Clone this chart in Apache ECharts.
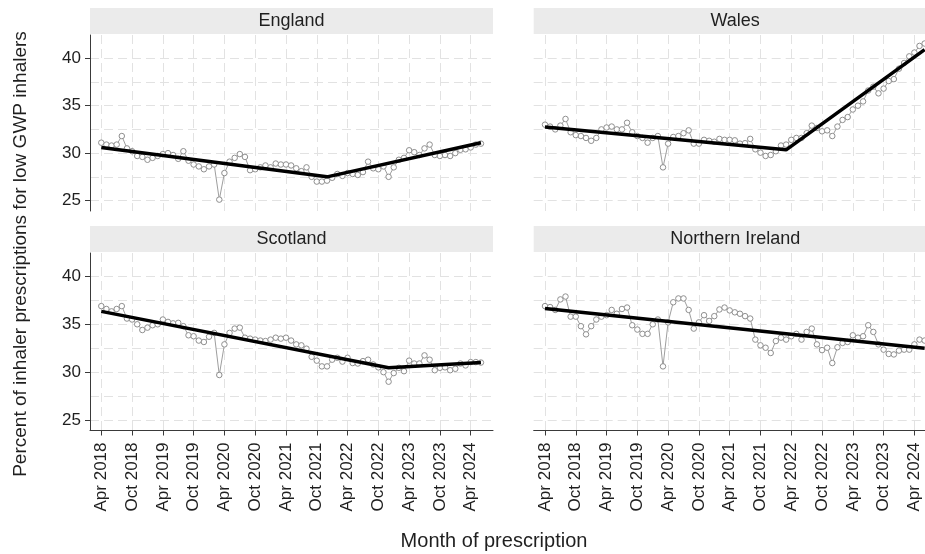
<!DOCTYPE html>
<html>
<head>
<meta charset="utf-8">
<script src="https://cdn.jsdelivr.net/npm/echarts@6/dist/echarts.min.js"></script>
<style>
html,body{margin:0;padding:0;background:#fff;}
#chart{width:925px;height:554px;}
</style>
</head>
<body>
<div id="chart"></div>
<script>
// ---- Data (month index 0 = Apr 2018 ... 74 = Jun 2024) ----
const panelNames = ["England", "Wales", "Scotland", "Northern Ireland"];
const tickMonths = [0, 6, 12, 18, 24, 30, 36, 42, 48, 54, 60, 66, 72];
const tickLabels = ["Apr 2018", "Oct 2018", "Apr 2019", "Oct 2019", "Apr 2020", "Oct 2020",
  "Apr 2021", "Oct 2021", "Apr 2022", "Oct 2022", "Apr 2023", "Oct 2023", "Apr 2024"];
const yTickValues = [25, 30, 35, 40];
const yGridValues = [25, 27.5, 30, 32.5, 35, 37.5, 40];

const england = [31.1, 30.9, 30.8, 30.9, 31.8, 30.5, 30.2, 29.7, 29.6, 29.3, 29.5, 29.7, 29.9, 30.0, 29.8,
  29.4, 30.2, 29.2, 28.8, 28.6, 28.3, 28.6, 28.8, 25.1, 27.9, 29.1, 29.5, 29.9, 29.6, 28.2,
  28.3, 28.5, 28.7, 28.5, 28.9, 28.8, 28.8, 28.7, 28.4, 28.1, 28.5, 27.5, 27.0, 27.0, 27.1,
  27.4, 27.8, 27.6, 27.9, 27.8, 27.7, 28.0, 29.1, 28.4, 28.3, 28.6, 27.5, 28.5, 29.3, 29.5,
  30.3, 30.1, 29.8, 30.5, 30.9, 29.8, 29.7, 29.8, 29.7, 30.0, 30.35, 30.4, 30.6, 30.9, 31.0];
const wales = [33.0, 32.8, 32.5, 32.9, 33.6, 32.2, 31.9, 31.8, 31.6, 31.3, 31.6, 32.5, 32.7, 32.8, 32.5,
  32.5, 33.2, 32.2, 31.8, 31.6, 31.1, 31.6, 31.8, 28.5, 31.0, 31.7, 31.8, 32.1, 32.4, 31.0,
  31.0, 31.4, 31.3, 31.2, 31.5, 31.4, 31.4, 31.35, 31.0, 31.05, 31.5, 30.4, 30.05, 29.7, 29.8,
  30.2, 30.8, 30.9, 31.4, 31.6, 31.6, 32.1, 32.9, 32.65, 32.3, 32.4, 31.8, 32.8, 33.5, 33.8,
  34.6, 35.0, 35.45, 36.6, 37.0, 36.3, 36.8, 37.6, 37.8, 38.9, 39.5, 40.2, 40.6, 41.3, 41.55];
const scotland = [36.9, 36.6, 36.35, 36.6, 36.9, 35.6, 35.5, 35.0, 34.4, 34.65, 34.9, 35.0, 35.5, 35.25, 35.1,
  35.15, 34.8, 33.85, 33.75, 33.3, 33.15, 33.7, 34.1, 29.7, 32.9, 34.1, 34.55, 34.65, 33.6, 33.5,
  33.4, 33.3, 33.25, 33.4, 33.6, 33.5, 33.6, 33.3, 32.9, 32.8, 32.45, 31.6, 31.2, 30.6, 30.6,
  31.3, 31.5, 31.1, 31.5, 30.95, 30.9, 31.15, 31.3, 30.8, 30.5, 30.0, 29.0, 29.9, 30.45, 30.1,
  31.2, 30.9, 30.9, 31.75, 31.3, 30.2, 30.45, 30.5, 30.2, 30.35, 30.9, 30.7, 31.05, 31.05, 31.0];
const northernIreland = [36.9, 36.8, 36.5, 37.6, 37.9, 35.8, 35.8, 34.8, 33.95, 34.8, 35.5, 35.8, 35.95, 36.5, 36.1,
  36.6, 36.75, 34.9, 34.45, 34.0, 34.0, 35.0, 35.5, 30.6, 35.2, 37.3, 37.7, 37.7, 36.5, 34.55,
  35.2, 35.95, 35.35, 35.85, 36.55, 36.75, 36.45, 36.25, 36.1, 35.85, 35.6, 33.4, 32.8, 32.55, 32.0,
  33.25, 33.6, 33.4, 33.75, 34.0, 33.4, 34.2, 34.55, 32.9, 32.3, 32.55, 30.95, 32.6, 33.05, 33.15,
  33.85, 33.6, 33.75, 34.9, 34.2, 32.9, 32.35, 31.9, 31.85, 32.25, 32.35, 32.35, 32.9, 33.4, 33.3];

// fitted segmented trend lines: [month index, percent]
const englandFit = [[0, 30.6], [44, 27.5], [74, 31.1]];
const walesFit = [[0, 32.75], [47, 30.35], [74, 40.9]];
const scotlandFit = [[0, 36.35], [56, 30.45], [74, 31.0]];
const northernIrelandFit = [[0, 36.65], [74, 32.5]];

// ---- Layout ----
const FONT = "'Liberation Sans', Arial, sans-serif";
const TXT = '#1f1f1f';
const AX = '#3a3a3a';
const GRIDC = '#e2e2e2';
const xMin = -2.2, xMax = 76.35, yMin = 23.9, yMax = 42.45;
const panels = [
  { values: england, fit: englandFit, left: 90, top: 35, width: 403, height: 176, hy: 8 },
  { values: wales, fit: walesFit, left: 533.7, top: 35, width: 403, height: 176, hy: 8 },
  { values: scotland, fit: scotlandFit, left: 90, top: 253, width: 403, height: 177.5, hy: 226 },
  { values: northernIreland, fit: northernIrelandFit, left: 533.7, top: 253, width: 403, height: 177.5, hy: 226 }
];

const grid = [], xAxis = [], yAxis = [], series = [], graphics = [];
const dash = { color: GRIDC, width: 1, type: [9, 5] };

panels.forEach((p, i) => {
  const bottomRow = i >= 2, leftCol = i % 2 === 0;
  grid.push({ left: p.left, top: p.top, width: p.width, height: p.height, containLabel: false, outerBoundsMode: 'none' });
  xAxis.push({
    gridIndex: i, type: 'value', min: xMin, max: xMax,
    axisLine: { show: bottomRow, onZero: false, lineStyle: { color: AX, width: 1 } },
    axisTick: { show: bottomRow, customValues: tickMonths, length: 5, lineStyle: { color: AX } },
    axisLabel: {
      show: bottomRow, customValues: tickMonths, rotate: 90, margin: 12,
      color: TXT, fontFamily: FONT, fontSize: 17,
      formatter: v => tickLabels[tickMonths.indexOf(Math.round(v))] || ''
    },
    splitLine: { show: true, lineStyle: dash }
  });
  const mainY = yAxis.length;
  yAxis.push({
    gridIndex: i, type: 'value', min: yMin, max: yMax, position: 'left',
    axisLine: { show: leftCol, onZero: false, lineStyle: { color: AX, width: 1 } },
    axisTick: { show: leftCol, customValues: yTickValues, length: 5, lineStyle: { color: AX } },
    axisLabel: { show: leftCol, customValues: yTickValues, margin: 9, color: TXT, fontFamily: FONT, fontSize: 17 },
    splitLine: { show: false }
  });
  yAxis.push({
    gridIndex: i, type: 'value', min: yMin, max: yMax, position: 'left',
    axisLine: { show: false }, axisTick: { show: false, customValues: yGridValues },
    axisLabel: { show: false }, splitLine: { show: true, lineStyle: dash }
  });
  series.push({
    type: 'line', xAxisIndex: i, yAxisIndex: mainY,
    data: p.values.map((v, m) => [m, v]),
    symbol: 'circle', symbolSize: 5.5, showAllSymbol: true,
    lineStyle: { color: '#9e9e9e', width: 1 },
    itemStyle: { color: '#ffffff', borderColor: '#8f8f8f', borderWidth: 1 },
    z: 2, silent: true
  });
  series.push({
    type: 'line', xAxisIndex: i, yAxisIndex: mainY,
    data: p.fit, symbol: 'none',
    lineStyle: { color: '#000000', width: 3.5 }, z: 3, silent: true
  });
  graphics.push({ type: 'rect', shape: { x: p.left, y: p.hy, width: p.width, height: 26 }, style: { fill: '#ebebeb' }, silent: true });
  graphics.push({ type: 'text', x: p.left + p.width / 2, y: p.hy + 13,
    style: { text: panelNames[i], font: '18px ' + FONT, fill: TXT, textAlign: 'center', textVerticalAlign: 'middle' }, silent: true });
});

graphics.push({ type: 'text', x: 21, y: 254, rotation: Math.PI / 2,
  style: { text: 'Percent of inhaler prescriptions for low GWP inhalers', font: '19px ' + FONT, fill: TXT, textAlign: 'center', textVerticalAlign: 'middle' } });
graphics.push({ type: 'text', x: 494, y: 541,
  style: { text: 'Month of prescription', font: '20px ' + FONT, fill: TXT, textAlign: 'center', textVerticalAlign: 'middle' } });

const chart = echarts.init(document.getElementById('chart'), null, { renderer: 'canvas' });
chart.setOption({
  animation: false,
  backgroundColor: '#ffffff',
  grid, xAxis, yAxis, series,
  graphic: graphics
});
</script>
</body>
</html>
